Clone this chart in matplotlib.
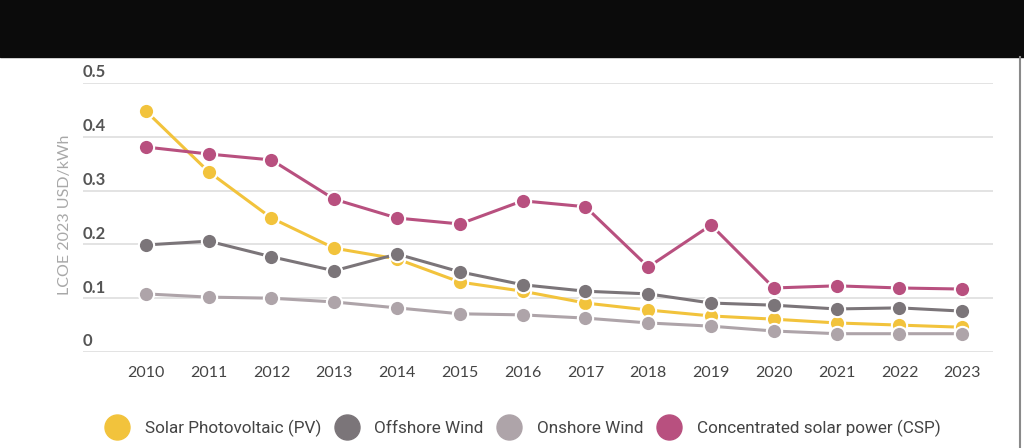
from matplotlib import pyplot as plt
from matplotlib.patches import Rectangle
from matplotlib.lines import Line2D

years = list(range(2010, 2024))
solar_pv = [0.448, 0.335, 0.249, 0.193, 0.173, 0.130, 0.113, 0.091, 0.078, 0.067, 0.061, 0.054, 0.050, 0.046]
offshore = [0.199, 0.206, 0.177, 0.151, 0.182, 0.149, 0.125, 0.113, 0.108, 0.091, 0.087, 0.080, 0.082, 0.076]
onshore = [0.108, 0.102, 0.100, 0.093, 0.082, 0.071, 0.069, 0.063, 0.054, 0.048, 0.039, 0.034, 0.034, 0.034]
csp = [0.381, 0.368, 0.357, 0.284, 0.249, 0.238, 0.281, 0.270, 0.158, 0.236, 0.119, 0.123, 0.119, 0.117]
y_ticks = [0, 0.1, 0.2, 0.3, 0.4, 0.5]
y_labels = ['0', '0.1', '0.2', '0.3', '0.4', '0.5']

series = [
    ('Solar Photovoltaic (PV)', solar_pv, '#f2c33c'),
    ('Offshore Wind', offshore, '#7b7579'),
    ('Onshore Wind', onshore, '#aea4a9'),
    ('Concentrated solar power (CSP)', csp, '#b8507f'),
]

plt.rcParams['font.family'] = ['Lato', 'DejaVu Sans']

fig = plt.figure(figsize=(10.24, 4.48), dpi=100)
fig.patches.append(Rectangle((0, 0.8728), 1, 0.13, transform=fig.transFigure, color='#0b0b0b', zorder=0))
fig.add_artist(Line2D([0.9965, 0.9965], [0, 0.8728], transform=fig.transFigure, color='#8a8a8a', lw=1.5))

ax = fig.add_axes([0.0811, 0.2143, 0.8887, 0.6004])
ax.set_xlim(2009.0, 2023.49)
ax.set_ylim(0, 0.5)
for s in ax.spines.values():
    s.set_visible(False)

for y, lab in zip(y_ticks, y_labels):
    ax.axhline(y, color='#dedede', lw=1.2, zorder=0)
    ax.text(0, y + 0.005, lab, transform=ax.get_yaxis_transform(),
            ha='left', va='bottom', fontsize=12, color='#555555', fontweight='bold')
ax.set_yticks([])

for label, vals, color in series:
    ax.plot(years, vals, color=color, lw=2.2, marker='o', markersize=11,
            markeredgecolor='white', markeredgewidth=1.5, label=label)

ax.set_xticks(years)
ax.set_xticklabels([str(y) for y in years], fontsize=11.5, color='#444444')
ax.tick_params(axis='x', length=0, pad=10)

fig.text(0.063, 0.52, 'LCOE 2023 USD/kWh', rotation=90, ha='center', va='center',
         fontsize=11.5, color='#a8a8a8')

handles = [Line2D([], [], ls='none', marker='o', markersize=18, color=c) for _, _, c in series]
fig.legend(handles, [s[0] for s in series], loc='center left', bbox_to_anchor=(0.089, 0.044),
           ncol=4, frameon=False, prop={'family': 'Roboto', 'size': 12.3}, labelcolor='#444444',
           handletextpad=1.03, columnspacing=0.9, handlelength=1.2)

fig.savefig('out.png', dpi=100, facecolor='white')
